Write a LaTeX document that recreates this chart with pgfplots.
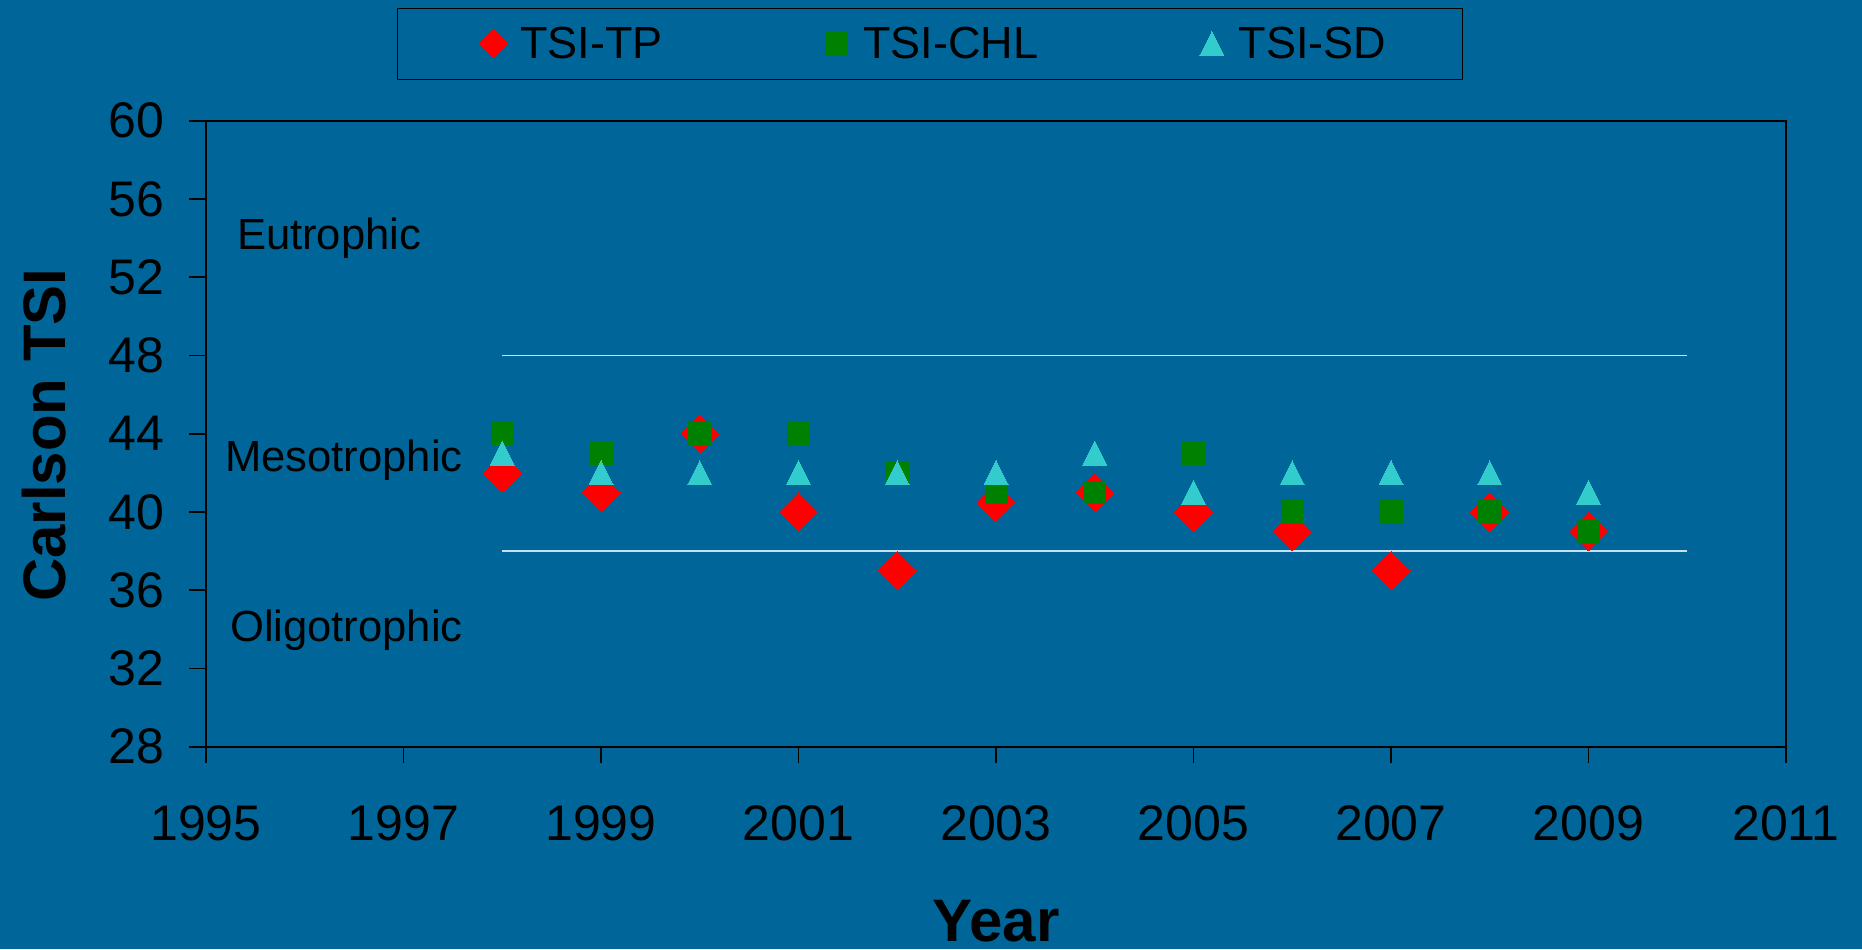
\documentclass[border=0pt]{standalone}
\usepackage{fontspec}
\setmainfont{Liberation Sans}
\usepackage{pgfplots}
\usepackage{pgfplotstable}
\pgfplotsset{compat=1.18}
\definecolor{bg}{RGB}{0,102,153}
\definecolor{tsitp}{RGB}{255,0,0}
\definecolor{tsichl}{RGB}{0,128,0}
\definecolor{tsisd}{RGB}{51,204,204}
\definecolor{refline}{RGB}{200,225,240}

\pgfplotstableread{
year tp chl sd
1998 42 44 43
1999 41 43 42
2000 44 44 42
2001 40 44 42
2002 37 42 42
2003 40.5 41 42
2004 41 41 43
2005 40 43 41
2006 39 40 42
2007 37 40 42
2008 40 40 42
2009 39 39 41
}\datatable

\pgfplotstableread{
x y
1998 48
2010 48
}\upperline
\pgfplotstableread{
x y
1998 38
2010 38
}\lowerline

\begin{document}
\begin{tikzpicture}
\fill[bg, use as bounding box] (-103pt,-101.15pt) rectangle (828pt,373.35pt);
\begin{axis}[
  at={(0pt,0pt)}, anchor=south west,
  scale only axis, width=790pt, height=313pt,
  xmin=1995, xmax=2011, ymin=28, ymax=60,
  xtick={1995,1997,...,2011}, ytick={28,32,...,60},
  tick align=outside, tick pos=left,
  major tick length=8.3pt,
  axis line style={black, line width=0.8pt},
  every tick/.style={black, line width=0.8pt},
  /pgf/number format/assume math mode=true,
  tick label style={font=\fontsize{25}{30}\selectfont, text=black},
  x tick label style={/pgf/number format/1000 sep={}, anchor=north, inner sep=0pt, yshift=-20.7pt},
  y tick label style={anchor=east, inner sep=0pt, xshift=-12.4pt},
  xlabel={Year},
  ylabel={Carlson TSI},
  xlabel style={font=\fontsize{30}{36}\selectfont\bfseries, at={(axis description cs:0.5,-0.2785)}, anchor=center, inner sep=0pt},
  ylabel style={font=\fontsize{30}{36}\selectfont\bfseries, at={(axis description cs:-0.1027,0.4975)}, anchor=center, rotate=0, inner sep=0pt},
  legend columns=3,
  legend image code/.code={\path (-13pt,0pt) (13pt,0pt); \draw[#1] plot coordinates {(0pt,0pt)};},
  legend style={at={(axis description cs:0.4582,1.1227)}, anchor=center,
    draw=black, line width=0.75pt, fill=none,
    font=\fontsize{22.5}{27}\selectfont, text=black,
    inner xsep=34.65pt, inner ysep=9.2pt,
    nodes={inner sep=0pt},
    /tikz/every odd column/.append style={column sep=0pt},
    /tikz/every even column/.append style={column sep=73.5pt}},
  clip=false,
]
\addplot[refline, line width=0.6pt, forget plot] table[x=x,y=y] {\upperline};
\addplot[refline, line width=0.6pt, forget plot] table[x=x,y=y] {\lowerline};
\addplot[only marks, color=tsitp, mark=square*, mark size=6.72pt, mark options={rotate=45, fill=tsitp, draw=tsitp, line width=0pt},
  legend image post style={mark size=5.13pt}] table[x=year,y=tp] {\datatable};
\addlegendentry{TSI-TP}
\addplot[only marks, color=tsichl, mark=square*, mark size=5.5pt, mark options={fill=tsichl, draw=tsichl, line width=0pt}] table[x=year,y=chl] {\datatable};
\addlegendentry{TSI-CHL}
\addplot[only marks, color=tsisd, mark=triangle*, mark size=8pt, mark options={fill=tsisd, draw=tsisd, line width=0pt, xscale=0.866, yshift=-2pt}] table[x=year,y=sd] {\datatable};
\addlegendentry{TSI-SD\hspace*{3.5pt}}
\node[anchor=base west, inner sep=0pt, font=\fontsize{21.8}{26}\selectfont, text=black] at (axis cs:1995.31,53.41) {Eutrophic};
\node[anchor=base west, inner sep=0pt, font=\fontsize{21.8}{26}\selectfont, text=black] at (axis cs:1995.19,42.05) {Mesotrophic};
\node[anchor=base west, inner sep=0pt, font=\fontsize{21.8}{26}\selectfont, text=black] at (axis cs:1995.24,33.38) {Oligotrophic};
\end{axis}
\end{tikzpicture}
\end{document}
